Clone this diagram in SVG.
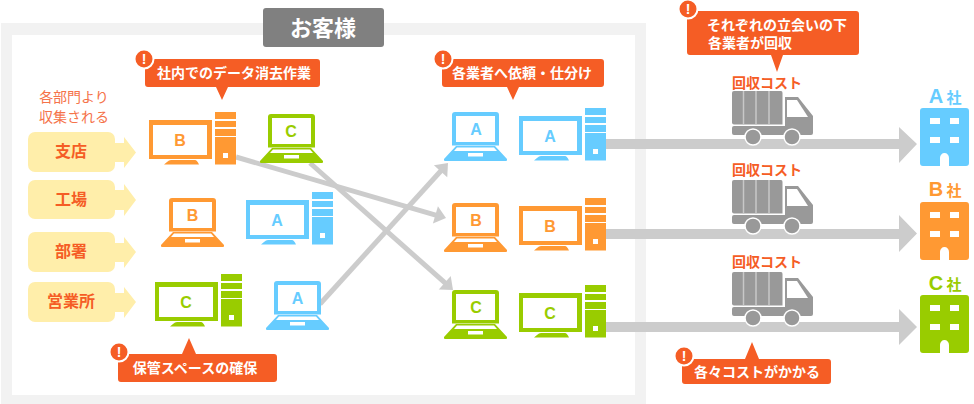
<svg xmlns="http://www.w3.org/2000/svg" width="974" height="404" viewBox="0 0 974 404">
<style>
text{font-family:"Noto Sans CJK JP","Noto Sans",sans-serif;text-anchor:middle}
.t{font-size:14px;font-weight:700;fill:#fff}
.o{font-size:14px;font-weight:700;fill:#f55d25}
.s{font-size:16px;font-weight:700;fill:#f55d25}
.n{font-size:14px;fill:#f5734a}
.l{font-family:"Liberation Sans",sans-serif;font-size:16px;font-weight:700}
.co{font-size:20px;font-family:"Liberation Sans",sans-serif;font-weight:700}
.sha{font-size:15px;font-weight:700}
.blue{fill:#66ccff}.orange{fill:#ff9933}.green{fill:#99cc00}
.call{fill:#f55d25}
.mark{fill:#f55d25;stroke:#fff;stroke-width:2}
.ex{font-family:"Liberation Sans",sans-serif;font-size:14px;font-weight:700;fill:#fff}
.arrowline{stroke:#ccc;stroke-width:5;fill:none}
.band{fill:#ccc}
</style>
<defs>
<g id="desktop">
<path fill-rule="evenodd" d="M0,8H63V47H0ZM4,13V43H58V13Z"/>
<path d="M18,50Q20,48 22,48H46Q48,48 50,52.500H15Z"/>
<rect x="66" y="0" width="21" height="7"/>
<rect x="66" y="9" width="21" height="6"/>
<rect x="66" y="17" width="21" height="7"/>
<path fill-rule="evenodd" d="M66,25H87V52.500H66ZM74,41V46H79V41Z"/>
</g>
<g id="laptop">
<path fill-rule="evenodd" d="M11,0H52Q55,0 55,3V33.500H8V3Q8,0 11,0ZM12,4V30H51V4Z"/>
<path fill-rule="evenodd" d="M12,34H51L63,47Q63.500,49 62,49H1Q-.5,49 0,47ZM13,35.500L10,39H53L50,35.500ZM24,41V44.500H39V41Z"/>
</g>
<g id="truck">
<path d="M2,0H49Q50.500,0 50.500,2V33.500H2Q0,33.500 0,31.500V2Q0,0 2,0Z" fill="#999"/>
<path d="M11.500,0V33.500M24,0V33.500M37,0V33.500" stroke="#c8c8c8" stroke-width="1.500" fill="none"/>
<path d="M53,6H66L81,25V42Q81,44 79,44H2Q0,44 0,42V37Q0,35 2,35H53Z" fill="#999"/>
<path d="M55,9H65L76,26H55Z" fill="#fff"/>
<circle cx="21" cy="46" r="8" fill="#999" stroke="#fff" stroke-width="1.500"/>
<circle cx="60" cy="46" r="8" fill="#999" stroke="#fff" stroke-width="1.500"/>
</g>
<g id="building">
<path fill-rule="evenodd" d="M3,0H46Q49,0 49,3V55Q49,58 46,58H29V50A4.500,5 0 0 0 20,50V58H3Q0,58 0,55V3Q0,0 3,0ZM10,10V16H20V10ZM30,10V16H39V10ZM10,29V35H20V29ZM30,29V35H39V29Z"/>
</g>
<marker id="head" markerUnits="userSpaceOnUse" markerWidth="22" markerHeight="22" viewBox="0 0 22 22" refX="4" refY="11" orient="auto">
<path d="M1,2L12,11L1,20Z" fill="#ccc"/>
</marker>
</defs>

<g id="panel">
<path fill="#f2f2f2" fill-rule="evenodd" d="M1,23H646V404H1ZM12,35V395H635V35Z"/>
</g>

<g id="connectors">
<path class="arrowline" d="M236,157L438.300,215.800" marker-end="url(#head)"/>
<path class="arrowline" d="M310,163L447,284.700" marker-end="url(#head)"/>
<path class="arrowline" d="M320,304L442.600,169" marker-end="url(#head)"/>
<path class="band" d="M606,139H899V127L917,144L899,163V149H606Z"/>
<path class="band" d="M606,229H899V215L917,233.500L899,252V239H606Z"/>
<path class="band" d="M606,322H899V309L917,327L899,345V332H606Z"/>
</g>

<g id="title">
<rect x="263" y="8" width="121" height="39" rx="3" fill="#808080"/>
<text x="323" y="36" font-size="22" font-weight="700" fill="#fff">お客様</text>
</g>

<g id="note-collect"><text class="n" x="74" y="102">各部門より</text><text class="n" x="74" y="122">収集される</text></g>

<g id="src-shiten" fill="#ffeeaa"><rect x="28" y="132" width="87" height="40" rx="7"/><path d="M113,143H124V137L136,152.500L124,168V162H113Z"/><text class="s" x="71" y="157">支店</text></g>
<g id="src-kojo" fill="#ffeeaa"><rect x="28" y="180" width="87" height="39" rx="7"/><path d="M113,190H124V184L136,200L124,216V210H113Z"/><text class="s" x="71" y="205">工場</text></g>
<g id="src-busho" fill="#ffeeaa"><rect x="28" y="232" width="87" height="40" rx="7"/><path d="M113,243H124V237L136,252L124,268V262H113Z"/><text class="s" x="71" y="257">部署</text></g>
<g id="src-eigyo" fill="#ffeeaa"><rect x="28" y="282" width="87" height="40" rx="7"/><path d="M113,293H124V287L136,302L124,318V312H113Z"/><text class="s" x="71" y="307">営業所</text></g>

<g id="pc-b1" class="orange"><use href="#desktop" x="149" y="112"/><text class="l orange" x="180" y="146">B</text></g>
<g id="lt-c1" class="green"><use href="#laptop" x="260" y="114"/><text class="l green" x="291" y="137">C</text></g>
<g id="lt-b1" class="orange"><use href="#laptop" x="161" y="198"/><text class="l orange" x="192.500" y="221">B</text></g>
<g id="pc-a1" class="blue"><use href="#desktop" x="246" y="192"/><text class="l blue" x="277" y="226">A</text></g>
<g id="pc-c1" class="green"><use href="#desktop" x="155" y="274"/><text class="l green" x="186" y="308">C</text></g>
<g id="lt-a1" class="blue"><use href="#laptop" x="266" y="281"/><text class="l blue" x="297.500" y="304">A</text></g>

<g id="lt-a2" class="blue"><use href="#laptop" x="444" y="112"/><text class="l blue" x="476" y="135">A</text></g>
<g id="pc-a2" class="blue"><use href="#desktop" x="519" y="108"/><text class="l blue" x="550" y="142">A</text></g>
<g id="lt-b2" class="orange"><use href="#laptop" x="444" y="203"/><text class="l orange" x="476" y="226">B</text></g>
<g id="pc-b2" class="orange"><use href="#desktop" x="519" y="198"/><text class="l orange" x="550" y="232">B</text></g>
<g id="lt-c2" class="green"><use href="#laptop" x="444" y="290"/><text class="l green" x="476" y="313">C</text></g>
<g id="pc-c2" class="green"><use href="#desktop" x="519" y="285"/><text class="l green" x="550" y="319">C</text></g>

<g id="truck-a"><text class="o" x="767" y="88">回収コスト</text><use href="#truck" x="732" y="91"/></g>
<g id="truck-b"><text class="o" x="767" y="175">回収コスト</text><use href="#truck" x="732" y="180"/></g>
<g id="truck-c"><text class="o" x="767" y="267">回収コスト</text><use href="#truck" x="732" y="272"/></g>

<g id="co-a" class="blue"><text class="co blue" x="936" y="103">A</text><text class="sha blue" x="954" y="103">社</text><use href="#building" x="920" y="108"/></g>
<g id="co-b" class="orange"><text class="co orange" x="936" y="196">B</text><text class="sha orange" x="954" y="196">社</text><use href="#building" x="920" y="202"/></g>
<g id="co-c" class="green"><text class="co green" x="936" y="290">C</text><text class="sha green" x="954" y="290">社</text><use href="#building" x="920" y="295"/></g>

<g id="call-1"><path class="call" d="M148,59H317Q320,59 320,62V84Q320,87 317,87H228L222,100L216,87H148Q145,87 145,84V62Q145,59 148,59Z"/><circle class="mark" cx="144" cy="59" r="9.500"/><text class="ex" x="144" y="64">!</text><text class="t" x="234" y="78">社内でのデータ消去作業</text></g>
<g id="call-2"><path class="call" d="M445,59H601Q604,59 604,62V84Q604,87 601,87H519L513,100L507,87H445Q442,87 442,84V62Q442,59 445,59Z"/><circle class="mark" cx="443" cy="59" r="9.500"/><text class="ex" x="443" y="64">!</text><text class="t" x="522" y="78">各業者へ依頼・仕分け</text></g>
<g id="call-3"><path class="call" d="M121,354H182L189,338L196,354H274Q277,354 277,357V379Q277,382 274,382H121Q118,382 118,379V357Q118,354 121,354Z"/><circle class="mark" cx="119" cy="352" r="9.500"/><text class="ex" x="119" y="357">!</text><text class="t" x="195" y="373">保管スペースの確保</text></g>
<g id="call-4"><path class="call" d="M685,359H745L752,342L759,359H828Q831,359 831,362V381Q831,384 828,384H685Q682,384 682,381V362Q682,359 685,359Z"/><circle class="mark" cx="684" cy="356" r="9.500"/><text class="ex" x="684" y="361">!</text><text class="t" x="757" y="377">各々コストがかかる</text></g>
<g id="call-5"><path class="call" d="M690,11H856Q859,11 859,14V52Q859,55 856,55H783L777,72L771,55H690Q687,55 687,52V14Q687,11 690,11Z"/><circle class="mark" cx="688" cy="9" r="9.500"/><text class="ex" x="688" y="14">!</text><text class="t" x="777" y="30">それぞれの立会いの下</text><text class="t" x="750" y="48">各業者が回収</text></g>
</svg>
